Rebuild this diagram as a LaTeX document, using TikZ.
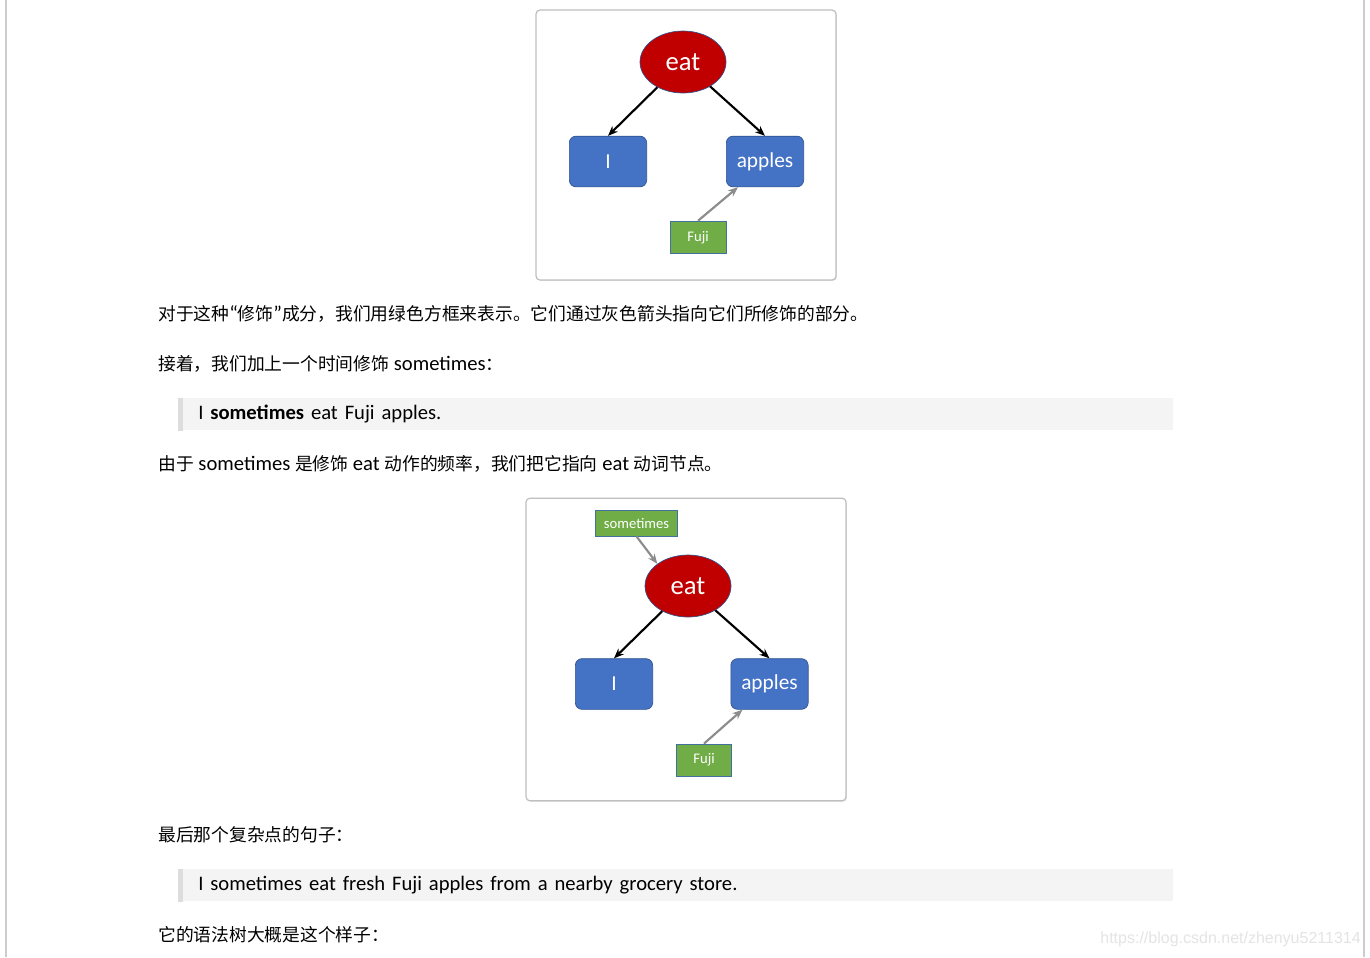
\documentclass[tikz,border=0pt]{standalone}
\usepackage{fontspec}
\setmainfont{Carlito}
\newfontfamily\zhfont{Noto Sans CJK SC}[Scale=1.025]
\newfontfamily\bodylatin{Carlito}[Scale=1.19]
\newfontfamily\markfont{Liberation Sans}
\usepackage{tikz}
\usetikzlibrary{arrows.meta,positioning,shapes.geometric,shadows}
\definecolor{treeRed}{HTML}{C00000}
\definecolor{treeBlue}{HTML}{4472C4}
\definecolor{treeEdge}{HTML}{2F528F}
\definecolor{treeGreen}{HTML}{70AD47}
\definecolor{treeGEdge}{HTML}{41719C}
\definecolor{modGray}{HTML}{8C8C8C}
\definecolor{quoteGray}{HTML}{F4F4F4}
\definecolor{barGray}{HTML}{DDDDDD}
\definecolor{pageLine}{HTML}{CCCCCC}
\definecolor{markGray}{HTML}{E4E4E4}
\newcommand\zh[1]{{\zhfont #1}}
\tikzset{
  panel/.style={
    rectangle,
    rounded corners=3pt,
    draw=black!25,
    fill=white,
    line width=0.9pt,
    drop shadow={opacity=0.22, shadow xshift=0.7pt, shadow yshift=-0.7pt}
  },
  verb/.style={
    ellipse,
    draw=treeEdge,
    fill=treeRed,
    text=white,
    inner sep=0pt,
    line width=0.5pt,
    minimum width=64.5pt,
    minimum height=46.5pt,
    font=\fontsize{20pt}{24pt}\selectfont
  },
  word/.style={
    rectangle,
    rounded corners=5pt,
    draw=treeEdge,
    fill=treeBlue,
    text=white,
    line width=0.5pt,
    minimum width=58pt,
    minimum height=38pt,
    font=\fontsize{16pt}{19pt}\selectfont
  },
  modifier/.style={
    rectangle,
    draw=treeGEdge,
    fill=treeGreen,
    text=white,
    line width=0.6pt,
    inner sep=0pt,
    font=\fontsize{11pt}{13pt}\selectfont
  },
  arrow/.style={-{Stealth[length=7.5pt,width=6pt]}, line width=1.6pt, draw=black},
  grayarrow/.style={-{Stealth[length=7.5pt,width=6pt]}, line width=1.6pt, draw=modGray},
  para/.style={anchor=west, inner sep=0pt, font=\bodylatin\fontsize{13pt}{16pt}\selectfont},
  quote/.style={
    anchor=north west,
    fill=quoteGray,
    inner xsep=15pt,
    inner ysep=0pt,
    minimum height=24pt,
    text width=716pt,
    align=left,
    font=\bodylatin\fontsize{13pt}{16pt}\selectfont
  }
}

\begin{document}
\begin{tikzpicture}[x=0.75pt,y=-0.75pt]
  \useasboundingbox (0,0) rectangle (1370,957);
  \fill[white] (0,0) rectangle (1370,957);
  \draw[pageLine, line width=0.9pt] (6,0) -- (6,957);
  \draw[pageLine, line width=0.9pt] (1364,0) -- (1364,957);

  % first tree
  \node[panel, minimum width=225pt, minimum height=202.5pt] (panelA) at (686,145) {};
  \node[verb] (eatA) at (683,62) {eat};
  \node[word] (iA) at (608,161.5) {I};
  \node[word] (applesA) at (765,161.5) {apples};
  \node[modifier, minimum width=42pt, minimum height=24.5pt] (fujiA) at (698,237.5) {Fuji};
  \draw[arrow] (eatA) -- (iA.north);
  \draw[arrow] (eatA) -- (applesA.north);
  \draw[grayarrow] (fujiA.north) -- ([xshift=9pt]applesA.south west);

  % text between the trees
  \node[para] (lineA) at (158,314) {\zh{对于这种}“\zh{修饰}”\zh{成分，我们用绿色方框来表示。它们通过灰色箭头指向它们所修饰的部分。}};
  \node[para] (lineB) at (158,364) {\zh{接着，我们加上一个时间修饰} sometimes\zh{：}};
  \node[quote] (quoteA) at (178,398) {I \textbf{sometimes} eat Fuji apples.};
  \fill[barGray] (quoteA.north west) rectangle ([xshift=3.5pt]quoteA.south west);
  \node[para] (lineC) at (158,464) {\zh{由于} sometimes \zh{是修饰} eat \zh{动作的频率，我们把它指向} eat \zh{动词节点。}};

  % second tree
  \node[panel, minimum width=240pt, minimum height=227pt] (panelB) at (686,649.5) {};
  \node[modifier, minimum width=62pt, minimum height=19.5pt] (sometimesB) at (636.5,523) {sometimes};
  \node[verb] (eatB) at (688,586) {eat};
  \node[word] (iB) at (614,684) {I};
  \node[word] (applesB) at (769.5,684) {apples};
  \node[modifier, minimum width=41pt, minimum height=24pt] (fujiB) at (704,760) {Fuji};
  \draw[grayarrow] (sometimesB.south) -- (eatB.north west);
  \draw[arrow] (eatB) -- (iB.north);
  \draw[arrow] (eatB) -- (applesB.north);
  \draw[grayarrow] (fujiB.north) -- ([xshift=9pt]applesB.south west);

  % closing text
  \node[para] (lineD) at (158,835) {\zh{最后那个复杂点的句子：}};
  \node[quote] (quoteB) at (178,869) {I sometimes eat fresh Fuji apples from a nearby grocery store.};
  \fill[barGray] (quoteB.north west) rectangle ([xshift=3.5pt]quoteB.south west);
  \node[para] (lineE) at (158,935) {\zh{它的语法树大概是这个样子：}};
  \node[anchor=east, inner sep=0pt, text=markGray, font=\markfont\fontsize{12pt}{14pt}\selectfont] (mark) at (1361,939) {https://blog.csdn.net/zhenyu5211314};
\end{tikzpicture}
\end{document}
